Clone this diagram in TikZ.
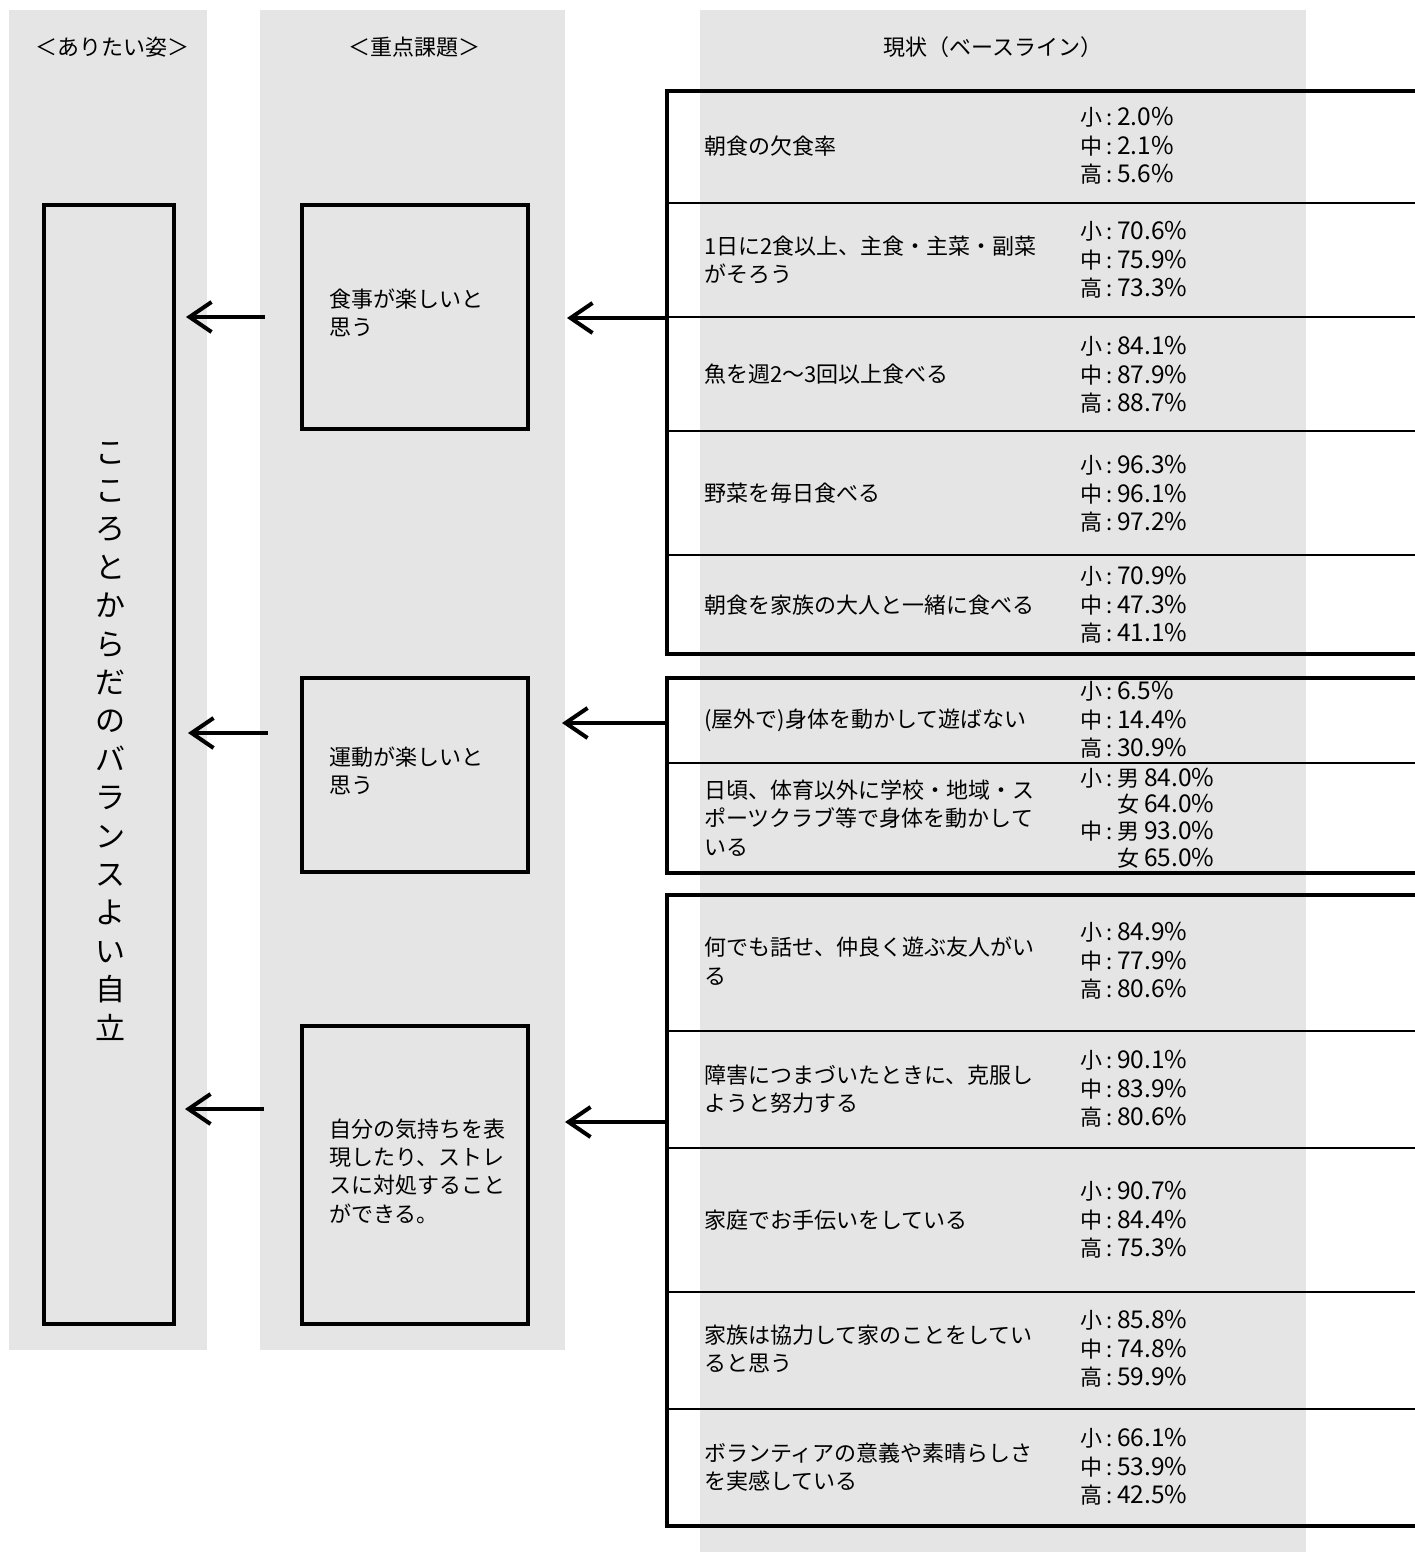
\documentclass[tikz,border=0pt]{standalone}
\usepackage{fontspec}
\setmainfont{Noto Sans CJK JP}
\usetikzlibrary{arrows.meta}
\definecolor{colgray}{RGB}{229,229,229}
\newcommand{\kolon}{\kern4pt:\kern5pt}
\newcommand{\nm}[1]{{\fontsize{24.5}{28.4}\selectfont #1\%}}
\begin{document}
\begin{tikzpicture}[x=1pt,y=-1pt,
  tbox/.style={draw,line width=4.8pt,inner sep=0pt,outer sep=0pt,anchor=north west},
  sepline/.style={line width=1.6pt},
  arr/.style={line width=4pt,-{Straight Barb[length=22pt,width=30pt]}},
  body/.style={font=\fontsize{22}{28.4}\selectfont,align=left,anchor=west,inner sep=0pt},
  head/.style={font=\fontsize{22}{28}\selectfont,inner sep=0pt}]
\useasboundingbox (0,0) rectangle (1415,1552);
\clip (0,0) rectangle (1415,1552);
% gray columns
\fill[colgray] (9,10) rectangle (207,1350);
\fill[colgray] (260,10) rectangle (565,1350);
\fill[colgray] (700,10) rectangle (1306,1552);
% headers
\node[head] (h1) at (112,47) {＜ありたい姿＞};
\node[head] (h2) at (414,47) {＜重点課題＞};
\node[head] (h3) at (993,47) {現状（ベースライン）};
% left box
\node[tbox,minimum width=130pt,minimum height=1119pt] (L) at (44,205) {};
\node[font=\fontsize{30}{38.4}\selectfont,align=center,inner sep=0pt] (vt) at (110,741)
  {こ\\こ\\ろ\\と\\か\\ら\\だ\\の\\バ\\ラ\\ン\\ス\\よ\\い\\自\\立};
% middle boxes
\node[tbox,minimum width=226pt,minimum height=224pt] (m1) at (302,205) {};
\node[tbox,minimum width=226pt,minimum height=194pt] (m2) at (302,678) {};
\node[tbox,minimum width=226pt,minimum height=298pt] (m3) at (302,1026) {};
\node[body] (mt1) at (329,313) {食事が楽しいと\\思う};
\node[body] (mt2) at (329,771) {運動が楽しいと\\思う};
\node[body] (mt3) at (329,1171) {自分の気持ちを表\\現したり、ストレ\\スに対処すること\\ができる。};
% group boxes
\node[tbox,minimum width=773pt,minimum height=563pt] (g1) at (667,91) {};
\node[tbox,minimum width=773pt,minimum height=195pt] (g2) at (667,678) {};
\node[tbox,minimum width=773pt,minimum height=631pt] (g3) at (667,895) {};
% separators
\draw[sepline] (667,203) -- (1440,203);
\draw[sepline] (667,317) -- (1440,317);
\draw[sepline] (667,431) -- (1440,431);
\draw[sepline] (667,555) -- (1440,555);
\draw[sepline] (667,763) -- (1440,763);
\draw[sepline] (667,1031) -- (1440,1031);
\draw[sepline] (667,1148) -- (1440,1148);
\draw[sepline] (667,1292) -- (1440,1292);
\draw[sepline] (667,1409) -- (1440,1409);
% group 1 rows
\node[body] (t11) at (704,146) {朝食の欠食率};
\node[body] (v11) at (1080,146) {小\kolon\nm{2.0}\\中\kolon\nm{2.1}\\高\kolon\nm{5.6}};
\node[body] (t12) at (704,260) {1日に2食以上、主食・主菜・副菜\\がそろう};
\node[body] (v12) at (1080,260) {小\kolon\nm{70.6}\\中\kolon\nm{75.9}\\高\kolon\nm{73.3}};
\node[body] (t13) at (704,374) {魚を週2～3回以上食べる};
\node[body] (v13) at (1080,375) {小\kolon\nm{84.1}\\中\kolon\nm{87.9}\\高\kolon\nm{88.7}};
\node[body] (t14) at (704,493) {野菜を毎日食べる};
\node[body] (v14) at (1080,494) {小\kolon\nm{96.3}\\中\kolon\nm{96.1}\\高\kolon\nm{97.2}};
\node[body] (t15) at (704,605) {朝食を家族の大人と一緒に食べる};
\node[body] (v15) at (1080,605) {小\kolon\nm{70.9}\\中\kolon\nm{47.3}\\高\kolon\nm{41.1}};
% group 2 rows
\node[body] (t21) at (704,720) {(屋外で)身体を動かして遊ばない};
\node[body] (v21) at (1080,720) {小\kolon\nm{6.5}\\中\kolon\nm{14.4}\\高\kolon\nm{30.9}};
\node[body] (t22) at (704,818) {日頃、体育以外に学校・地域・ス\\ポーツクラブ等で身体を動かして\\いる};
\node[body,font=\fontsize{22}{26.7}\selectfont] (v22) at (1080,818)
  {小\kolon 男 \nm{84.0}\\\phantom{小\kolon}女 \nm{64.0}\\中\kolon 男 \nm{93.0}\\\phantom{小\kolon}女 \nm{65.0}};
% group 3 rows
\node[body] (t31) at (704,961) {何でも話せ、仲良く遊ぶ友人がい\\る};
\node[body] (v31) at (1080,961) {小\kolon\nm{84.9}\\中\kolon\nm{77.9}\\高\kolon\nm{80.6}};
\node[body] (t32) at (704,1089) {障害につまづいたときに、克服し\\ようと努力する};
\node[body] (v32) at (1080,1089) {小\kolon\nm{90.1}\\中\kolon\nm{83.9}\\高\kolon\nm{80.6}};
\node[body] (t33) at (704,1220) {家庭でお手伝いをしている};
\node[body] (v33) at (1080,1220) {小\kolon\nm{90.7}\\中\kolon\nm{84.4}\\高\kolon\nm{75.3}};
\node[body] (t34) at (704,1349) {家族は協力して家のことをしてい\\ると思う};
\node[body] (v34) at (1080,1349) {小\kolon\nm{85.8}\\中\kolon\nm{74.8}\\高\kolon\nm{59.9}};
\node[body] (t35) at (704,1467) {ボランティアの意義や素晴らしさ\\を実感している};
\node[body] (v35) at (1080,1467) {小\kolon\nm{66.1}\\中\kolon\nm{53.9}\\高\kolon\nm{42.5}};
% arrows from groups to middle
\coordinate (ra1) at (567,318);
\coordinate (ra2) at (562,723);
\coordinate (ra3) at (565,1122);
\draw[arr] (g1.west |- ra1) -- (ra1);
\draw[arr] (g2.west |- ra2) -- (ra2);
\draw[arr] (g3.west |- ra3) -- (ra3);
% arrows from middle to left
\coordinate (ls1) at (265,317);
\coordinate (ls2) at (268,733);
\coordinate (ls3) at (264,1109);
\coordinate (la1) at (186,317);
\coordinate (la2) at (188,733);
\coordinate (la3) at (185,1109);
\draw[arr] (ls1) -- (la1);
\draw[arr] (ls2) -- (la2);
\draw[arr] (ls3) -- (la3);
\end{tikzpicture}
\end{document}
